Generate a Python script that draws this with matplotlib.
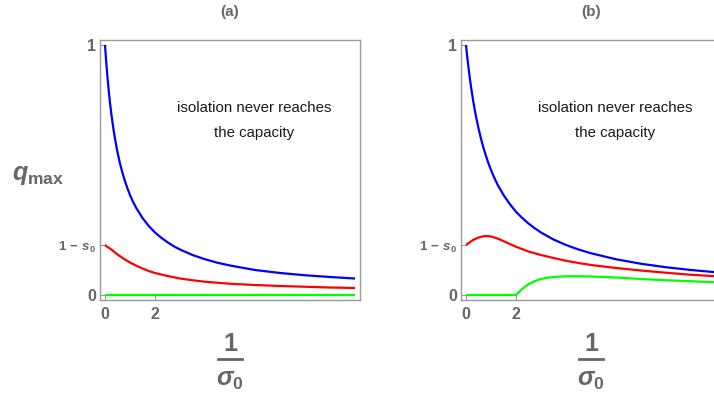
import matplotlib
matplotlib.use('Agg')
import matplotlib.pyplot as plt
from matplotlib.lines import Line2D

plt.rcParams['font.family'] = ['Liberation Sans', 'DejaVu Sans']
plt.rcParams['mathtext.fontset'] = 'custom'
plt.rcParams['mathtext.rm'] = 'Liberation Sans:bold'
plt.rcParams['mathtext.it'] = 'Liberation Sans:italic:bold'
plt.rcParams['mathtext.bf'] = 'Liberation Sans:bold'

# ---------------- data ----------------
panel_titles = ['(a)', '(b)']
xtick_vals = [0, 2]
xtick_labels = ['0', '2']
s0 = 0.8
ytick_vals = [0, 1 - s0, 1]
ytick_labels = ['0', r'$1\,-\,s_0$', '1']
note_lines = ['isolation never reaches', 'the capacity']

x_blue = [0, 0.05, 0.1, 0.15, 0.2, 0.25, 0.3, 0.35, 0.4, 0.45, 0.5, 0.6, 0.7,
          0.8, 0.9, 1.0, 1.1, 1.25, 1.5, 1.75, 2, 2.25, 2.5, 2.75, 3, 3.5, 4,
          4.5, 5, 6, 7, 8, 9, 10]
blue_a = [1.0, 0.93, 0.87, 0.816, 0.769, 0.727, 0.69, 0.656, 0.625, 0.597,
          0.571, 0.526, 0.488, 0.455, 0.426, 0.40, 0.377, 0.348, 0.308, 0.276,
          0.25, 0.229, 0.211, 0.195, 0.182, 0.16, 0.143, 0.129, 0.118, 0.10,
          0.088, 0.079, 0.072, 0.066]
blue_b = [1.0, 0.952, 0.909, 0.870, 0.833, 0.8, 0.769, 0.741, 0.714, 0.690,
          0.667, 0.625, 0.588, 0.556, 0.526, 0.5, 0.476, 0.444, 0.4, 0.364,
          0.333, 0.308, 0.286, 0.267, 0.25, 0.222, 0.2, 0.182, 0.167, 0.143,
          0.125, 0.111, 0.1, 0.091]

x_red_a = [0, 0.1, 0.25, 0.5, 0.75, 1, 1.25, 1.5, 1.75, 2, 2.5, 3, 3.5, 4, 5,
           6, 7, 8, 9, 10]
red_a = [0.2, 0.192, 0.182, 0.162, 0.145, 0.13, 0.117, 0.106, 0.096, 0.088,
         0.076, 0.066, 0.059, 0.053, 0.045, 0.040, 0.036, 0.033, 0.030, 0.028]

x_red_b = [0, 0.15, 0.3, 0.5, 0.7, 0.85, 1.0, 1.2, 1.4, 1.6, 2, 2.5, 3, 3.5,
           4, 4.5, 5, 6, 7, 8, 9, 10]
red_b = [0.2, 0.211, 0.221, 0.230, 0.235, 0.236, 0.234, 0.228, 0.220, 0.211,
         0.193, 0.174, 0.160, 0.148, 0.137, 0.128, 0.120, 0.108, 0.098, 0.089,
         0.081, 0.075]

x_green_a = [0, 10]
green_a = [0, 0]

x_green_b = [0, 1, 2, 2.1, 2.2, 2.3, 2.5, 2.75, 3, 3.25, 3.5, 4, 4.5, 5, 6,
             7, 8, 9, 10]
green_b = [0, 0, 0, 0.010, 0.020, 0.029, 0.043, 0.056, 0.064, 0.069, 0.072,
           0.075, 0.075, 0.074, 0.070, 0.064, 0.059, 0.055, 0.051]

series = [
    [(x_blue, blue_a, '#0000ff'), (x_red_a, red_a, '#ff0000'),
     (x_green_a, green_a, '#00ff00')],
    [(x_blue, blue_b, '#0000ff'), (x_red_b, red_b, '#ff0000'),
     (x_green_b, green_b, '#00ff00')],
]

# ---------------- figure ----------------
W, H = 714, 400
fig = plt.figure(figsize=(W / 100, H / 100), dpi=100)

frame_lefts = [100, 461]
frame_w = 260
frame_top, frame_bot = 40, 300
gray = '#9a9a9a'
label_gray = '#666666'

for i, left in enumerate(frame_lefts):
    ax = fig.add_axes([left / W, (H - frame_bot) / H, frame_w / W,
                       (frame_bot - frame_top) / H])
    for xs, ys, c in series[i]:
        ax.plot(xs, ys, color=c, lw=1.6, solid_capstyle='butt')
    ax.set_xlim(-0.2, 10.2)
    ax.set_ylim(-0.02, 1.02)
    for sp in ax.spines.values():
        sp.set_color(gray)
        sp.set_linewidth(1.0)
    ax.set_xticks(xtick_vals)
    ax.set_xticklabels(xtick_labels)
    ax.set_yticks(ytick_vals)
    ax.set_yticklabels(ytick_labels)
    ax.tick_params(axis='both', direction='in', length=4, width=0.8,
                   color=gray, labelcolor=label_gray, labelsize=11.5)
    ax.tick_params(axis='x', pad=5)
    ax.tick_params(axis='y', pad=3)
    for lab in ax.get_xticklabels() + ax.get_yticklabels():
        lab.set_fontweight('bold')
    ax.get_yticklabels()[1].set_fontsize(9.5)
    ax.text(5.95, 0.748, note_lines[0], ha='center', va='center',
            fontsize=10.8, color='#1a1a1a')
    ax.text(5.95, 0.648, note_lines[1], ha='center', va='center',
            fontsize=10.8, color='#1a1a1a')

    cx = left + frame_w / 2
    fig.text(cx / W, 1 - 12 / H, panel_titles[i], ha='center', va='center',
             fontsize=11, fontweight='bold', color=label_gray)
    # x label as a stacked fraction 1 / sigma_0
    fig.text(cx / W, 1 - 344 / H, '1', ha='center', va='center',
             fontsize=18, fontweight='bold', color=label_gray)
    fig.add_artist(Line2D([(cx - 12) / W, (cx + 12) / W],
                          [1 - 359 / H, 1 - 359 / H],
                          transform=fig.transFigure, color=label_gray, lw=2))
    fig.text(cx / W, 1 - 380 / H, r'$\sigma_0$', ha='center', va='center',
             fontsize=18, color=label_gray)

fig.text(12 / W, 1 - 175 / H, r'$q_{\mathrm{max}}$', ha='left', va='center',
         fontsize=18, color=label_gray)

fig.savefig('out.png', dpi=100)
